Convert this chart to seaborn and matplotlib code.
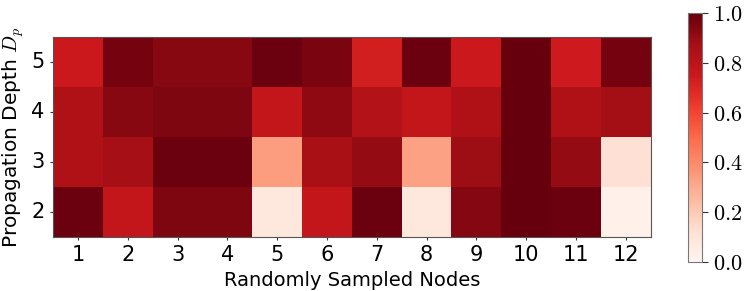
import matplotlib
matplotlib.use("Agg")
import matplotlib.pyplot as plt
import seaborn as sns
import numpy as np
import pandas as pd

nodes = ["1", "2", "3", "4", "5", "6", "7", "8", "9", "10", "11", "12"]
depths = ["5", "4", "3", "2"]
depth5 = [0.75, 0.97, 0.93, 0.93, 0.99, 0.96, 0.73, 0.99, 0.75, 1.00, 0.74, 0.97]
depth4 = [0.84, 0.93, 0.95, 0.95, 0.78, 0.92, 0.83, 0.78, 0.84, 1.00, 0.84, 0.875]
depth3 = [0.84, 0.87, 0.99, 0.99, 0.34, 0.86, 0.91, 0.33, 0.89, 1.00, 0.91, 0.12]
depth2 = [0.99, 0.78, 0.95, 0.95, 0.08, 0.78, 0.99, 0.08, 0.94, 1.00, 0.99, 0.03]
cbar_ticks = [0.0, 0.2, 0.4, 0.6, 0.8, 1.0]

df = pd.DataFrame([depth5, depth4, depth3, depth2], index=depths, columns=nodes)

sns.set_style("white")
plt.rcParams['font.family'] = ['DejaVu Sans']
plt.rcParams['mathtext.fontset'] = 'cm'
plt.rcParams['text.color'] = 'black'
plt.rcParams['axes.labelcolor'] = 'black'
plt.rcParams['xtick.color'] = 'black'
plt.rcParams['ytick.color'] = 'black'

fig = plt.figure(figsize=(7.47, 2.91), dpi=100)
ax = fig.add_axes([0.071, 0.186, 0.800, 0.687])
cax = fig.add_axes([0.921, 0.100, 0.019, 0.855])

sns.heatmap(df, ax=ax, cbar_ax=cax, cmap="Reds", vmin=0, vmax=1)

for s in ax.spines.values():
    s.set_visible(True)
    s.set_edgecolor("#555555")
    s.set_linewidth(0.8)

ax.set_xlabel("Randomly Sampled Nodes", fontsize=14, color="black")
ax.set_ylabel("Propagation Depth $D_p$", fontsize=14.5, color="black")
ax.tick_params(axis='both', labelsize=15, length=2.5, color="#333333", labelcolor="black")
ax.tick_params(axis='y', rotation=0)
ax.tick_params(bottom=True, left=True)

cbar = ax.collections[0].colorbar
cbar.set_ticks(cbar_ticks)
cbar.ax.tick_params(labelsize=16, length=4, color="#333333", labelcolor="black")
cbar.ax.set_yticklabels([f"${v:.1f}$" for v in cbar_ticks], fontsize=16)
cbar.outline.set_edgecolor("#777777")
cbar.outline.set_linewidth(0.8)

fig.savefig("out.png", dpi=100)
